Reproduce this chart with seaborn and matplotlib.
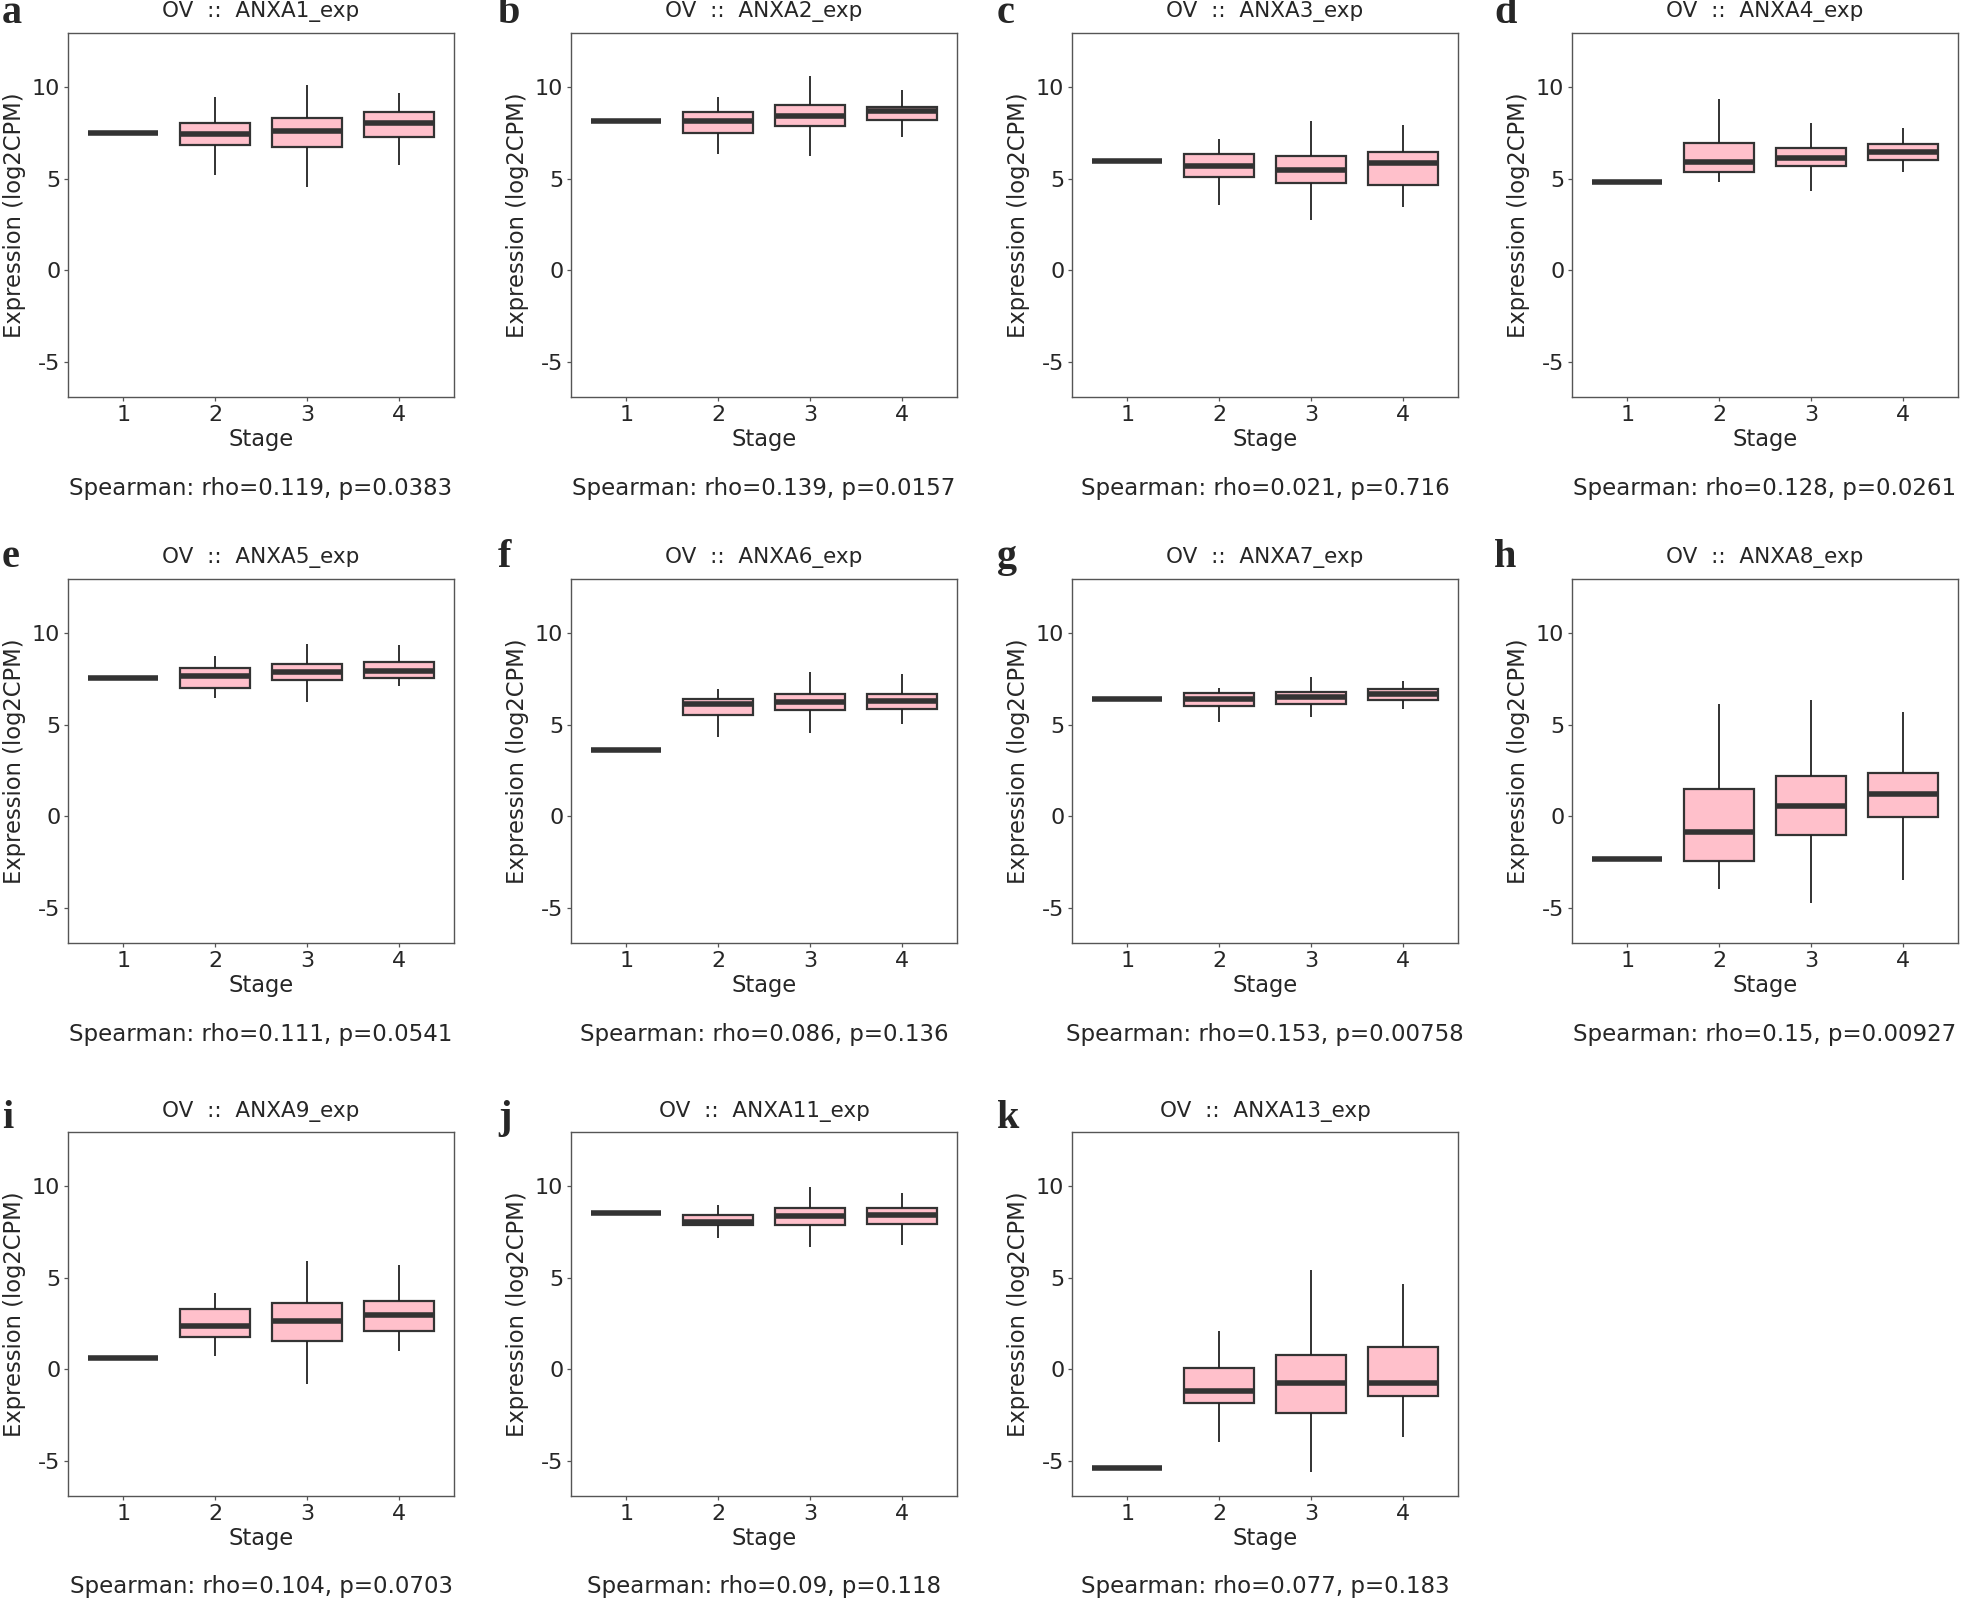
import numpy as np
import pandas as pd
import matplotlib
matplotlib.use("Agg")
import matplotlib.pyplot as plt
import seaborn as sns

sns.set_style("white")
plt.rcParams["font.family"] = ["DejaVu Sans"]
plt.rcParams["axes.unicode_minus"] = False

# stages on the x axis
stages = ["1", "2", "3", "4"]

# per stage: [whisker low, Q1, median, Q3, whisker high]; stage 1 has one sample
ANXA1 = [[7.51], [5.18, 6.85, 7.42, 8.04, 9.45], [4.55, 6.76, 7.58, 8.33, 10.09], [5.76, 7.27, 8.04, 8.64, 9.67]]
ANXA2 = [[8.13], [6.33, 7.51, 8.16, 8.62, 9.45], [6.25, 7.87, 8.45, 9.02, 10.62], [7.29, 8.22, 8.67, 8.91, 9.85]]
ANXA3 = [[5.95], [3.55, 5.09, 5.67, 6.36, 7.18], [2.76, 4.76, 5.49, 6.24, 8.15], [3.45, 4.67, 5.85, 6.45, 7.95]]
ANXA4 = [[4.80], [4.82, 5.36, 5.93, 6.96, 9.36], [4.33, 5.71, 6.15, 6.67, 8.04], [5.35, 6.04, 6.45, 6.89, 7.78]]
ANXA5 = [[7.54], [6.48, 7.01, 7.65, 8.10, 8.74], [6.24, 7.45, 7.86, 8.30, 9.38], [7.10, 7.54, 7.92, 8.43, 9.36]]
ANXA6 = [[3.65], [4.32, 5.53, 6.11, 6.42, 6.97], [4.54, 5.80, 6.26, 6.66, 7.90], [5.02, 5.86, 6.30, 6.66, 7.76]]
ANXA7 = [[6.42], [5.16, 6.04, 6.41, 6.75, 6.99], [5.42, 6.15, 6.53, 6.79, 7.61], [5.88, 6.33, 6.68, 6.93, 7.39]]
ANXA8 = [[-2.34], [-3.96, -2.41, -0.86, 1.48, 6.11], [-4.74, -1.00, 0.58, 2.19, 6.37], [-3.47, -0.02, 1.22, 2.37, 5.71]]
ANXA9 = [[0.65], [0.76, 1.78, 2.38, 3.29, 4.15], [-0.78, 1.55, 2.62, 3.60, 5.89], [1.02, 2.09, 2.95, 3.75, 5.67]]
ANXA11 = [[8.53], [7.15, 7.87, 8.05, 8.44, 8.95], [6.67, 7.89, 8.35, 8.80, 9.96], [6.78, 7.91, 8.40, 8.78, 9.60]]
ANXA13 = [[-5.38], [-3.96, -1.82, -1.18, 0.09, 2.09], [-5.60, -2.38, -0.73, 0.78, 5.42], [-3.69, -1.45, -0.73, 1.24, 4.64]]

genes = ["ANXA1", "ANXA2", "ANXA3", "ANXA4", "ANXA5", "ANXA6", "ANXA7", "ANXA8", "ANXA9", "ANXA11", "ANXA13"]
gene_stats = [ANXA1, ANXA2, ANXA3, ANXA4, ANXA5, ANXA6, ANXA7, ANXA8, ANXA9, ANXA11, ANXA13]
rho = ["0.119", "0.139", "0.021", "0.128", "0.111", "0.086", "0.153", "0.15", "0.104", "0.09", "0.077"]
pval = ["0.0383", "0.0157", "0.716", "0.0261", "0.0541", "0.136", "0.00758", "0.00927", "0.0703", "0.118", "0.183"]
letters = list("abcdefghijk")

W, H = 1961, 1602
fig = plt.figure(figsize=(W / 100, H / 100), dpi=100)

col_left = [68, 571, 1072, 1572]
row_top = [33, 579, 1132]
letter_x = [2, 498, 997, 1494]
letter_base = [23, 567, 1128]
aw, ah = 386, 364

for i, gene in enumerate(genes):
    r, c = divmod(i, 4)
    ax = fig.add_axes([col_left[c] / W, 1 - (row_top[r] + ah) / H, aw / W, ah / H])

    rows = []
    for st, vals in zip(stages, gene_stats[i]):
        for v in vals:
            rows.append({"Stage": st, "Expr": v})
    df = pd.DataFrame(rows)

    sns.boxplot(data=df, x="Stage", y="Expr", order=stages, ax=ax,
                color="#FFC0CB", saturation=1, width=0.76, whis=np.inf,
                linecolor="#333333", linewidth=1.6, showcaps=False,
                medianprops=dict(color="#333333", linewidth=4),
                whiskerprops=dict(color="#222222", linewidth=1.3))

    ax.set_xlim(-0.6, 3.6)
    ax.set_ylim(-6.9, 12.95)
    ax.set_yticks([-5, 0, 5, 10])
    ax.set_yticklabels(["-5", "0", "5", "10"])
    ax.tick_params(axis="both", labelsize=16, length=3, width=0.9, color="#555555", pad=2.5,
                   bottom=True, left=True)
    for sp in ax.spines.values():
        sp.set_color("#555555")
        sp.set_linewidth(1.0)
    ax.set_xlabel("Stage", fontsize=16.3, labelpad=2.5)
    ax.set_ylabel("Expression (log2CPM)", fontsize=16.3, labelpad=4)
    ax.text(0.5, 1 + 21 / ah, "OV  ::  %s_exp" % gene, transform=ax.transAxes,
            ha="center", va="center", fontsize=15.5)
    ax.text(0.5, -91 / ah, "Spearman: rho=%s, p=%s" % (rho[i], pval[i]), transform=ax.transAxes,
            ha="center", va="center", fontsize=16.5)

    fig.text(letter_x[c] / W, 1 - letter_base[r] / H, letters[i], ha="left", va="baseline",
             fontsize=29, fontweight="bold", family="Liberation Serif")

fig.savefig("out.png", dpi=100, facecolor="white")
